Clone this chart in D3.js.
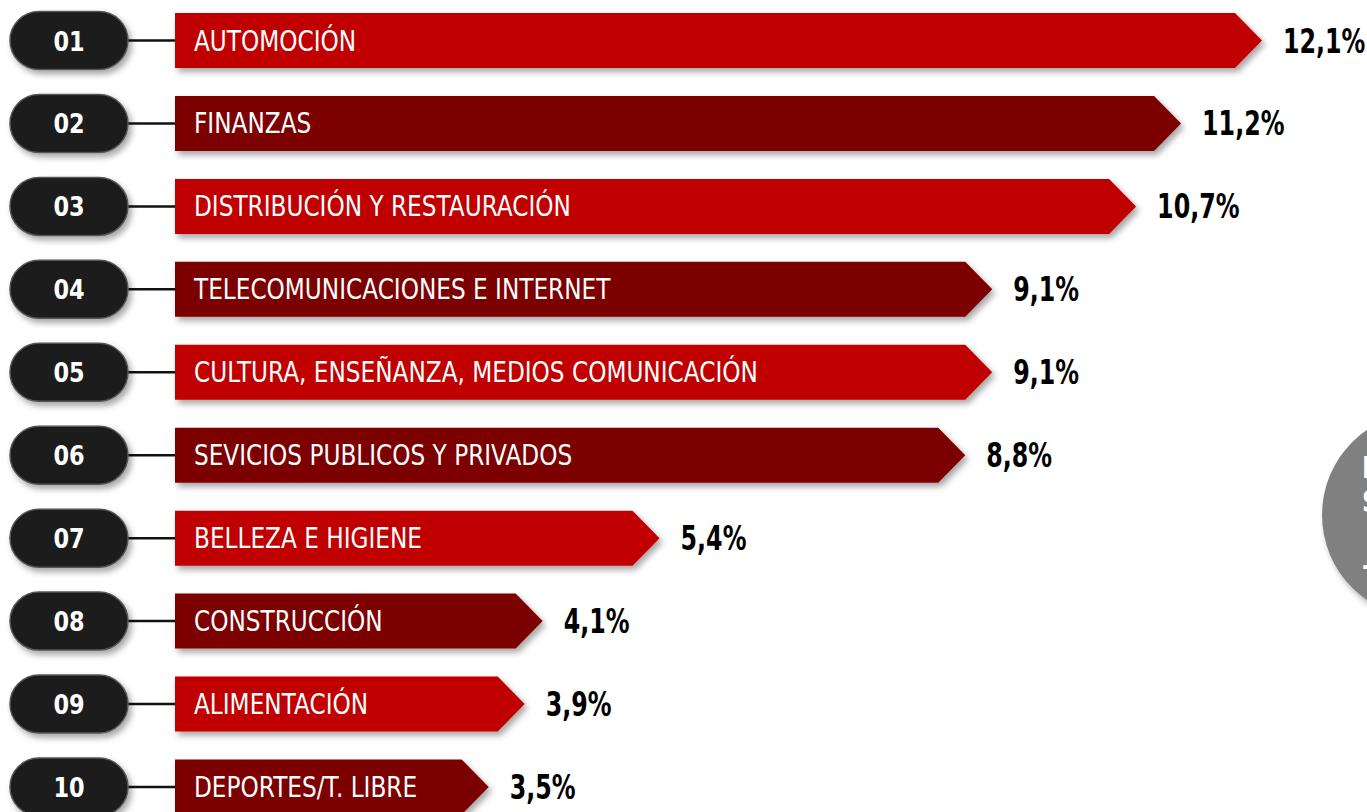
<!DOCTYPE html>
<meta charset="utf-8">
<script src="https://d3js.org/d3.v7.min.js"></script>
<style>
  body { margin: 0; background: #fff; overflow: hidden; }
  text { font-family: "DejaVu Sans", sans-serif; }
</style>
<div id="my_dataviz"></div>
<script>

// data
var codes = ["01","02","03","04","05","06","07","08","09","10"]
var sectors = ["AUTOMOCIÓN","FINANZAS","DISTRIBUCIÓN Y RESTAURACIÓN","TELECOMUNICACIONES E INTERNET",
  "CULTURA, ENSEÑANZA, MEDIOS COMUNICACIÓN","SEVICIOS PUBLICOS Y PRIVADOS","BELLEZA E HIGIENE",
  "CONSTRUCCIÓN","ALIMENTACIÓN","DEPORTES/T. LIBRE"]
var shares = [12.1, 11.2, 10.7, 9.1, 9.1, 8.8, 5.4, 4.1, 3.9, 3.5]
var valueLabels = ["12,1%","11,2%","10,7%","9,1%","9,1%","8,8%","5,4%","4,1%","3,9%","3,5%"]

var width = 1367, height = 812
var barH = 55, tipW = 27, barLeft = 175

// no condensed face installed, so squeeze the text horizontally
function squeeze(tx, ty, sx) {
  return "translate(" + tx + "," + ty + ") scale(" + sx + ",1)"
}

var svg = d3.select("#my_dataviz")
  .append("svg")
    .attr("width", width)
    .attr("height", height)

var defs = svg.append("defs")
var sh = defs.append("filter").attr("id", "shadow")
  .attr("x", "-5%").attr("y", "-30%").attr("width", "115%").attr("height", "170%")
sh.append("feDropShadow").attr("dx", 3).attr("dy", 4).attr("stdDeviation", 3)
  .attr("flood-color", "#000").attr("flood-opacity", 0.35)

var x = d3.scaleLinear().domain([0, 12.1]).range([174, 1262])
var y = d3.scalePoint().domain(codes).range([40.5, 787])

// grey disc on the right edge (cut by the frame, as in the original)
svg.append("circle")
  .attr("cx", 1425).attr("cy", 515).attr("r", 103)
  .attr("fill", "#808080")
  .attr("filter", "url(#shadow)")
var discText = ["RANKING", "SECTORES", "—"]
svg.selectAll(".disc")
  .data(discText)
  .enter().append("text")
    .attr("transform", function(d, i) { return squeeze(1362, [478, 512, 575][i], 0.8) })
    .attr("fill", "#fff")
    .attr("font-weight", "bold")
    .attr("font-size", 30)
    .text(function(d) { return d })

var rows = svg.selectAll(".row")
  .data(codes)
  .enter().append("g")
    .attr("class", "row")
    .attr("transform", function(d) { return "translate(0," + y(d) + ")" })

// connector
rows.append("line")
  .attr("x1", 120).attr("x2", barLeft)
  .attr("y1", 0).attr("y2", 0)
  .attr("stroke", "#111").attr("stroke-width", 2.5)

// number pill
rows.append("rect")
  .attr("x", 10).attr("y", -29)
  .attr("width", 118).attr("height", 58)
  .attr("rx", 29).attr("ry", 29)
  .attr("fill", "#1a1a1a")
  .attr("stroke", "#555").attr("stroke-width", 1.5)
  .attr("filter", "url(#shadow)")

rows.append("text")
  .attr("transform", squeeze(69, 10, 0.83))
  .attr("text-anchor", "middle")
  .attr("fill", "#fff")
  .attr("font-weight", "bold")
  .attr("font-size", 27)
  .text(function(d) { return d })

// arrow bars
rows.append("path")
  .attr("d", function(d, i) {
    var tip = x(shares[i])
    return "M" + barLeft + "," + (-barH / 2) +
      "L" + (tip - tipW) + "," + (-barH / 2) +
      "L" + tip + ",0" +
      "L" + (tip - tipW) + "," + (barH / 2) +
      "L" + barLeft + "," + (barH / 2) + "Z"
  })
  .attr("fill", function(d, i) { return i % 2 === 0 ? "#c00000" : "#7d0000" })
  .attr("filter", "url(#shadow)")

rows.append("text")
  .attr("transform", squeeze(barLeft + 19, 10, 0.8))
  .attr("fill", "#fff")
  .attr("font-size", 29)
  .text(function(d, i) { return sectors[i] })

rows.append("text")
  .attr("transform", function(d, i) { return squeeze(x(shares[i]) + 21, 12, 0.72) })
  .attr("fill", "#000")
  .attr("font-weight", "bold")
  .attr("font-size", 33)
  .text(function(d, i) { return valueLabels[i] })

</script>
